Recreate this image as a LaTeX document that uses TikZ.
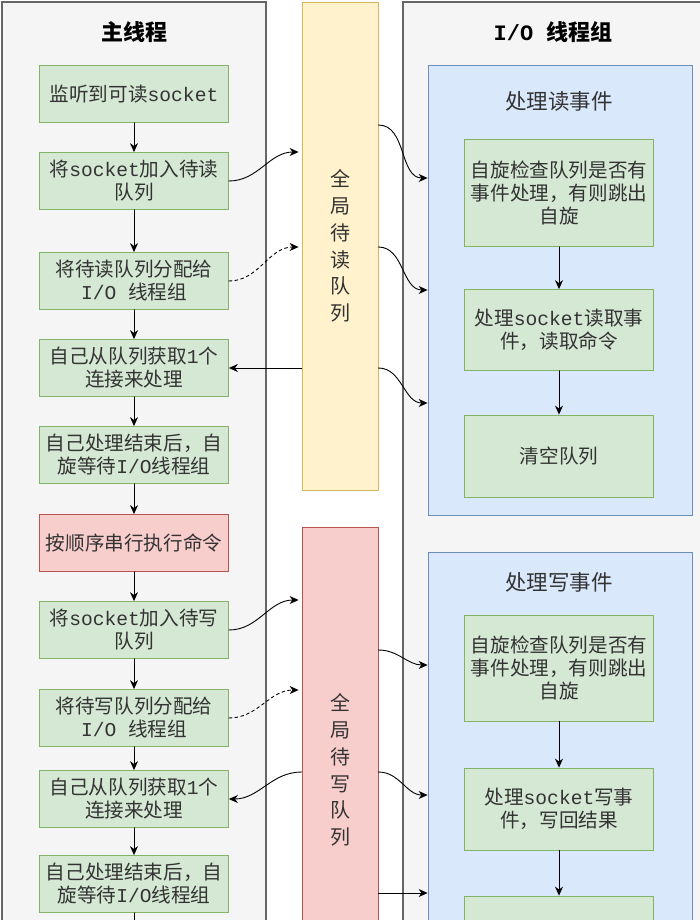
\documentclass[tikz,border=0pt]{standalone}
\usepackage{fontspec}
\setmainfont{Noto Sans CJK SC}
\setmonofont{Liberation Mono}
\usetikzlibrary{arrows.meta,calc}
\definecolor{cpanel}{HTML}{F5F5F5}
\definecolor{cpanelline}{HTML}{666666}
\definecolor{cgreen}{HTML}{D5E8D4}
\definecolor{cgreenline}{HTML}{82B366}
\definecolor{cred}{HTML}{F8CECC}
\definecolor{credline}{HTML}{B85450}
\definecolor{cyellow}{HTML}{FFF2CC}
\definecolor{cyellowline}{HTML}{D6B656}
\definecolor{cblue}{HTML}{DAE8FC}
\definecolor{cblueline}{HTML}{6C8EBF}
\definecolor{ctext}{HTML}{333333}
\newcommand{\mtt}[1]{\texttt{#1}}

\begin{document}
\begin{tikzpicture}[x=1pt,y=-1pt,>={Stealth[length=9pt,width=8pt]},line cap=round,
  panel/.style={draw=cpanelline,fill=cpanel,line width=1.4pt},
  stepbox/.style={draw=cgreenline,fill=cgreen,line width=0.8pt,minimum width=189pt,minimum height=57pt,
    align=center,inner sep=0pt,text=ctext,font=\fontsize{19.6}{23}\selectfont},
  execbox/.style={stepbox,draw=credline,fill=cred},
  queuebox/.style={draw=#1line,fill=#1,line width=0.8pt,minimum width=76pt,align=center,inner sep=0pt,
    text=ctext,font=\fontsize{20}{26.7}\selectfont},
  eventbox/.style={draw=cblueline,fill=cblue,line width=0.8pt,minimum width=264pt,inner sep=0pt},
  flow/.style={->,line width=0.9pt,black},
  dflow/.style={flow,dashed}]
\clip (0,0) rectangle (700,920);
% ---------- thread panels ----------
\draw[panel] (2,2) rectangle (266,1000);
\draw[panel] (403,2) rectangle (720,1000);
\node[font=\fontsize{22}{26}\selectfont\bfseries] (mtitle) at (134,32) {主线程};
\node[font=\fontsize{22}{26}\selectfont\bfseries] (iotitle) at (553,32) {\mtt{I/O\ }线程组};
% ---------- global queues ----------
\node[queuebox=cyellow,minimum height=488pt] (rq) at (340,246) {全\\局\\待\\读\\队\\列};
\node[queuebox=cred,minimum height=486pt] (wq) at (340,770) {全\\局\\待\\写\\队\\列};
% ---------- main thread ----------
\node[stepbox] (m1) at (134,94) {监听到可读\mtt{socket}};
\node[stepbox] (m2) at (134,181) {将\mtt{socket}加入待读\\队列};
\node[stepbox] (m3) at (134,281) {将待读队列分配给\\\mtt{I/O\ }线程组};
\node[stepbox] (m4) at (134,368) {自己从队列获取\mtt{1}个\\连接来处理};
\node[stepbox] (m5) at (134,455) {自己处理结束后，自\\旋等待\mtt{I/O}线程组};
\node[execbox] (m6) at (134,543) {按顺序串行执行命令};
\node[stepbox] (m7) at (134,630) {将\mtt{socket}加入待写\\队列};
\node[stepbox] (m8) at (134,718) {将待写队列分配给\\\mtt{I/O\ }线程组};
\node[stepbox] (m9) at (134,799) {自己从队列获取\mtt{1}个\\连接来处理};
\node[stepbox] (m10) at (134,884) {自己处理结束后，自\\旋等待\mtt{I/O}线程组};
\coordinate (mout) at (134,960);
\foreach \a/\b in {m1/m2,m2/m3,m3/m4,m4/m5,m5/m6,m6/m7,m7/m8,m8/m9,m9/m10,m10/mout}
  \draw[flow] (\a.south) -- (\b.north);
% ---------- I/O thread group ----------
\node[eventbox,minimum height=450pt] (rev) at (560,290) {};
\node[text=ctext,font=\fontsize{21.5}{25}\selectfont] (revt) at (559,101) {处理读事件};
\node[stepbox,minimum height=107pt] (r1) at (559,193) {自旋检查队列是否有\\事件处理，有则跳出\\自旋};
\node[stepbox,minimum height=81pt] (r2) at (559,330) {处理\mtt{socket}读取事\\件，读取命令};
\node[stepbox,minimum height=82pt] (r3) at (559,456) {清空队列};
\node[eventbox,minimum height=448pt] (wev) at (560,776) {};
\node[text=ctext,font=\fontsize{21.5}{25}\selectfont] (wevt) at (559,582) {处理写事件};
\node[stepbox,minimum height=106pt] (w1) at (559,668) {自旋检查队列是否有\\事件处理，有则跳出\\自旋};
\node[stepbox,minimum height=82pt] (w2) at (559,809) {处理\mtt{socket}写事\\件，写回结果};
\node[stepbox,minimum height=82pt] (w3) at (559,937) {};
\foreach \a/\b in {r1/r2,r2/r3,w1/w2,w2/w3}
  \draw[flow] (\a.south) -- (\b.north);
% ---------- main thread <-> queues ----------
\draw[flow] (m2.east) to[out=0,in=180] ($(rq.west |- 0,152)+(-3,0)$);
\draw[dflow] (m3.east) to[out=0,in=180] ($(rq.west |- 0,247)+(-3,0)$);
\draw[flow] (rq.west |- m4.east) -- (m4.east);
\draw[flow] (m7.east) to[out=0,in=180] ($(wq.west |- 0,600)+(-3,0)$);
\draw[dflow] (m8.east) to[out=0,in=180] ($(wq.west |- 0,690)+(-3,0)$);
\draw[flow] (wq.west |- 0,772) to[out=180,in=0] (m9.east);
% ---------- queues -> I/O threads ----------
\draw[flow] (rq.east |- 0,125) to[out=0,in=180] (rev.west |- 0,178);
\draw[flow] (rq.east |- 0,247) to[out=0,in=180] (rev.west |- 0,290);
\draw[flow] (rq.east |- 0,368) to[out=0,in=180] (rev.west |- 0,403);
\draw[flow] (wq.east |- 0,650) to[out=0,in=180] (wev.west |- 0,665);
\draw[flow] (wq.east |- 0,772) to[out=0,in=180] (wev.west |- 0,795);
\draw[flow] (wq.east |- 0,893) -- (wev.west |- 0,893);
\end{tikzpicture}
\end{document}
